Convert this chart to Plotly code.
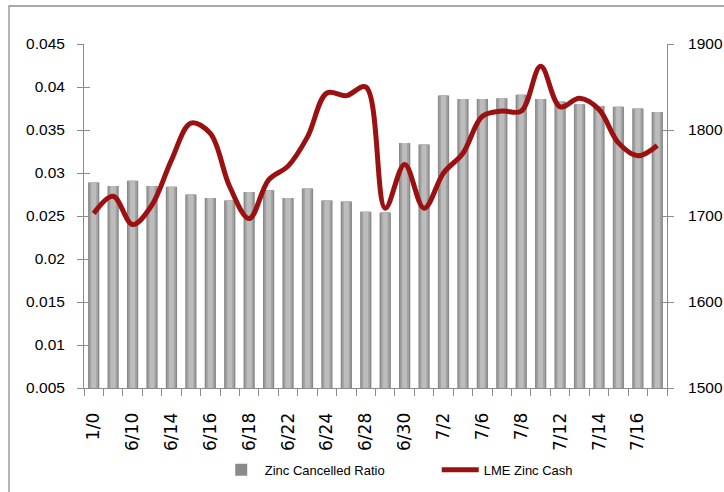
import plotly.graph_objects as go

categories = ["1/0", "6/9", "6/10", "6/11", "6/14", "6/15", "6/16", "6/17", "6/18", "6/21",
              "6/22", "6/23", "6/24", "6/25", "6/28", "6/29", "6/30", "7/1", "7/2", "7/5",
              "7/6", "7/7", "7/8", "7/9", "7/12", "7/13", "7/14", "7/15", "7/16", "7/19"]
cancelled_ratio = [0.0289, 0.0285, 0.0291, 0.0285, 0.0284, 0.0275, 0.0271, 0.0268, 0.0278, 0.0280,
                   0.0271, 0.0282, 0.0268, 0.0267, 0.0255, 0.0254, 0.0335, 0.0333, 0.0390, 0.0386,
                   0.0386, 0.0387, 0.0391, 0.0386, 0.0383, 0.0380, 0.0378, 0.0377, 0.0375, 0.0371]
lme_cash = [1703, 1723, 1690, 1713, 1765, 1808, 1796, 1734, 1697, 1742,
            1758, 1792, 1843, 1840, 1850, 1709, 1760, 1709, 1750, 1773,
            1816, 1822, 1822, 1874, 1827, 1837, 1824, 1785, 1770, 1782]
tick_labels = [c if i % 2 == 0 else "" for i, c in enumerate(categories)]
left_ticks = [0.005, 0.01, 0.015, 0.02, 0.025, 0.03, 0.035, 0.04, 0.045]
left_tick_text = ["0.005", "0.01", "0.015", "0.02", "0.025", "0.03", "0.035", "0.04", "0.045"]
right_ticks = [1500, 1600, 1700, 1800, 1900]

AX = "#8c8c8c"
SANS = "Liberation Sans, Arial, sans-serif"

fig = go.Figure()
# cylinder-like bars: layered widths / shades
layers = [(0.58, "#8a8a8a", True), (0.44, "#a2a2a2", False), (0.26, "#bcbcbc", False)]
for w, col, leg in layers:
    fig.add_trace(go.Bar(x=categories, y=cancelled_ratio, width=w, name="Zinc Cancelled Ratio",
                         marker=dict(color=col, line=dict(width=0)), showlegend=leg,
                         legendgroup="ratio", yaxis="y"))
fig.add_trace(go.Scatter(x=categories, y=lme_cash, mode="lines", name="LME Zinc Cash",
                         line=dict(color="#9b1111", width=5, shape="spline", smoothing=1.0),
                         yaxis="y2"))
# helper traces for inner tick marks (cross ticks)
fig.add_trace(go.Scatter(x=[], y=[], yaxis="y3", showlegend=False, hoverinfo="skip"))
fig.add_trace(go.Scatter(x=[], y=[], yaxis="y4", showlegend=False, hoverinfo="skip"))

fig.update_layout(
    width=724, height=492,
    margin=dict(l=84, r=57, t=44, b=104, autoexpand=False),
    paper_bgcolor="white", plot_bgcolor="white",
    barmode="overlay",
    xaxis=dict(type="category", categoryorder="array", categoryarray=categories,
               range=[-0.5, len(categories) - 0.5], automargin=False,
               tickmode="array", tickvals=categories, ticktext=tick_labels,
               tickson="boundaries", ticks="outside", ticklen=7, tickcolor=AX,
               showline=True, linecolor=AX, linewidth=1, showgrid=False,
               tickangle=-90, ticklabelstandoff=17,
               tickfont=dict(family="DejaVu Sans", size=17, color="black")),
    yaxis=dict(range=[0.005, 0.045], tickmode="array", tickvals=left_ticks, ticktext=left_tick_text,
               ticks="outside", ticklen=6, tickcolor=AX, showline=True, linecolor=AX,
               showgrid=False, zeroline=False, ticklabelstandoff=9, automargin=False,
               tickfont=dict(family=SANS, size=15.5, color="black")),
    yaxis2=dict(range=[1500, 1900], overlaying="y", side="right", tickmode="array",
                tickvals=right_ticks, ticks="outside", ticklen=6, tickcolor=AX,
                showline=True, linecolor=AX, showgrid=False, zeroline=False,
                ticklabelstandoff=11, automargin=False,
                tickfont=dict(family=SANS, size=15.5, color="black")),
    yaxis3=dict(range=[0.005, 0.045], overlaying="y", side="left", tickmode="array",
                tickvals=left_ticks, ticks="inside", ticklen=6, tickcolor=AX, automargin=False,
                showticklabels=False, showline=False, showgrid=False, zeroline=False),
    yaxis4=dict(range=[1500, 1900], overlaying="y", side="right", tickmode="array",
                tickvals=right_ticks, ticks="inside", ticklen=6, tickcolor=AX, automargin=False,
                showticklabels=False, showline=False, showgrid=False, zeroline=False),
    legend=dict(orientation="h", x=0.605, xanchor="center", y=-0.238, yanchor="middle",
                font=dict(family=SANS, size=13, color="black"), itemwidth=37,
                entrywidth=167, entrywidthmode="pixels",
                bgcolor="rgba(0,0,0,0)"),
    showlegend=True,
    shapes=[dict(type="rect", xref="paper", yref="paper", x0=-0.1286, x1=1.3, y0=-0.6, y1=1.1105,
                 line=dict(color="#8c8c8c", width=1.3), fillcolor="rgba(0,0,0,0)", layer="below")],
)

fig.write_html("out.html")
